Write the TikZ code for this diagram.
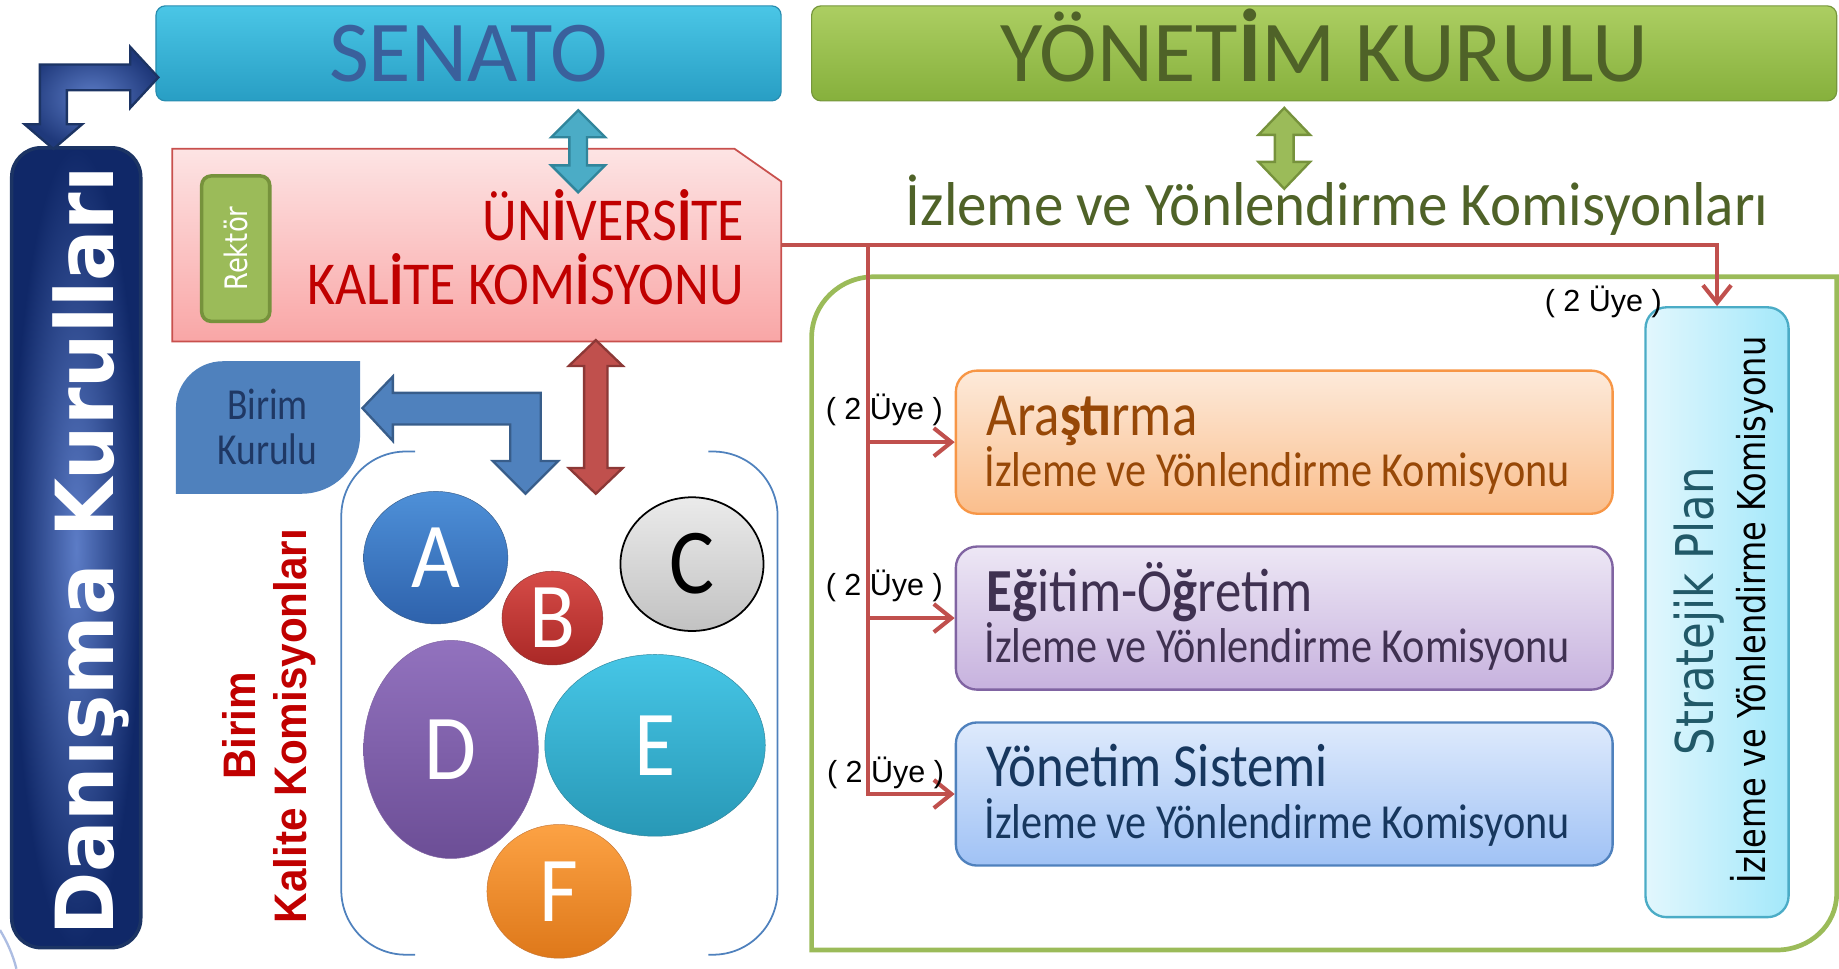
\documentclass[tikz,border=0pt]{standalone}
\usepackage{graphicx}
\usepackage{fontspec}
\setmainfont{Carlito}
\newfontfamily\verdana{DejaVu Sans}
\newfontfamily\arial{Liberation Sans}
\usetikzlibrary{shapes.geometric,arrows.meta}
\newcommand{\tall}[2][1.16]{\scalebox{1}[#1]{#2}}
\definecolor{senTop}{RGB}{74,198,230}
\definecolor{senBot}{RGB}{40,158,196}
\definecolor{senLine}{RGB}{40,140,175}
\definecolor{senText}{RGB}{58,96,156}
\definecolor{ykTop}{RGB}{172,206,98}
\definecolor{ykBot}{RGB}{134,176,60}
\definecolor{ykLine}{RGB}{118,150,60}
\definecolor{ykText}{RGB}{79,98,40}
\definecolor{navyOut}{RGB}{16,40,104}
\definecolor{navyIn}{RGB}{92,124,198}
\definecolor{navyLine}{RGB}{28,52,100}
\definecolor{ukkTop}{RGB}{253,228,228}
\definecolor{ukkBot}{RGB}{249,166,166}
\definecolor{ukkLine}{RGB}{200,80,77}
\definecolor{ukkText}{RGB}{192,0,0}
\definecolor{rekFill}{RGB}{155,187,89}
\definecolor{rekLine}{RGB}{118,146,60}
\definecolor{birFill}{RGB}{79,129,189}
\definecolor{birLine}{RGB}{56,93,138}
\definecolor{birText}{RGB}{31,56,100}
\definecolor{redFill}{RGB}{192,80,77}
\definecolor{redLine}{RGB}{140,56,54}
\definecolor{cyFill}{RGB}{75,172,198}
\definecolor{cyLine}{RGB}{49,133,155}
\definecolor{linkRed}{RGB}{192,80,77}
\definecolor{arsTop}{RGB}{253,234,218}
\definecolor{arsBot}{RGB}{250,190,140}
\definecolor{arsLine}{RGB}{247,150,70}
\definecolor{arsText}{RGB}{151,72,7}
\definecolor{egiTop}{RGB}{237,231,245}
\definecolor{egiBot}{RGB}{199,178,222}
\definecolor{egiLine}{RGB}{128,100,162}
\definecolor{egiText}{RGB}{63,49,81}
\definecolor{yonTop}{RGB}{222,234,252}
\definecolor{yonBot}{RGB}{160,194,245}
\definecolor{yonLine}{RGB}{79,129,189}
\definecolor{yonText}{RGB}{23,55,94}
\definecolor{strL}{RGB}{226,247,253}
\definecolor{strR}{RGB}{163,232,250}
\definecolor{strLine}{RGB}{75,172,198}
\definecolor{strText}{RGB}{33,89,104}
\begin{document}
\begin{tikzpicture}[x=1pt, y=-1pt,
  bar/.style={rounded corners=8pt, line width=1pt, inner sep=0pt, minimum height=81pt,
    font=\fontsize{74}{78}\selectfont, text height=47.6pt, text depth=0pt},
  box/.style={rounded corners=18pt, line width=2pt, inner sep=0pt, minimum width=560pt, minimum height=122pt},
  title/.style={anchor=base west, font=\fontsize{45}{48}\selectfont},
  sub/.style={anchor=base west, font=\fontsize{36}{40}\selectfont},
  circ/.style={ellipse, inner sep=0pt, text=white, font=\fontsize{72}{76}\selectfont},
  uye/.style={anchor=base, font=\arial\fontsize{26}{28}\selectfont},
  bkk/.style={rotate=90, anchor=base, text=ukkText, font=\arial\bfseries\fontsize{36}{40}\selectfont},
  link/.style={draw=linkRed, line width=3.5pt, -{Straight Barb[length=15pt,width=24pt]}},
  bracket/.style={draw=birFill, line width=1.5pt, rounded corners=55pt}]
\useasboundingbox (0,0) rectangle (1568,826);
\draw[color=navyIn!50, line width=2pt] (0,793) .. controls (6,803) and (11,814) .. (14,826);
\draw[draw=rekFill, line width=4pt] (692,810) -- (692,288) .. controls (692,259) and (716,236) .. (745,236)
  -- (1566,236) -- (1566,762) .. controls (1566,789) and (1543,810) .. (1515,810) -- cycle;
\node[bar, top color=senTop, bottom color=senBot, draw=senLine, minimum width=533pt, text=senText] (senato) at (399.5,45.5) {SENATO};
\node[bar, top color=ykTop, bottom color=ykBot, draw=ykLine, minimum width=874pt, text=ykText] (yk) at (1129,45.5) {YÖNET\textbf{İ}M KURULU};
\node[rounded corners=25pt, inner sep=0pt, minimum width=110pt, minimum height=682pt, inner color=navyIn, outer color=navyOut, draw=navyLine, line width=3pt] (danisma) at (65,467) {};
\node[rotate=90, anchor=base, text=white, font=\verdana\bfseries\fontsize{65}{70}\selectfont] (danismaT) at (97,470) {\tall[1.05]{Danışma Kurulları}};
\path[inner color=navyIn, outer color=navyOut!80!navyIn, draw=navyLine, line width=2pt] (135,66) -- (111,40) -- (111,55) -- (34,55) -- (34,106) -- (21,106)
  -- (45.5,127) -- (70,106) -- (57,106) -- (57,77) -- (111,77) -- (111,92) -- cycle;
\node[inner sep=0pt, minimum width=519pt, minimum height=164pt] (ukk) at (406.5,209) {};
\path[top color=ukkTop, bottom color=ukkBot, draw=ukkLine, line width=1.5pt] (ukk.south west) -- (ukk.north west) -- ([xshift=-40pt]ukk.north east)
  -- ([yshift=-28pt]ukk.north east) -- (ukk.south east) -- cycle;
\node[anchor=base east, text=ukkText, font=\fontsize{46}{50}\selectfont] (ukkA) at (638,205) {\tall[1.13]{ÜN\textbf{İ}VERS\textbf{İ}TE}};
\node[anchor=base east, text=ukkText, font=\fontsize{46}{50}\selectfont] (ukkB) at (638,260) {\tall[1.13]{KAL\textbf{İ}TE KOM\textbf{İ}SYONU}};
\node[rotate=90, rounded corners=8pt, fill=rekFill, draw=rekLine, line width=3pt, minimum width=124pt, minimum height=58pt, text=white,
  font=\verdana\fontsize{22}{24}\selectfont] (rektor) at (201,212) {\tall[1.2]{Rektör}};
\path[fill=cyFill, draw=cyLine, line width=2pt] (493,94) -- (516,117) -- (500.5,117) -- (500.5,141) -- (516,141) -- (493,164)
  -- (470,141) -- (485.5,141) -- (485.5,117) -- (470,117) -- cycle;
\path[fill=rekFill, draw=rekLine, line width=2pt] (1095,92) -- (1117,115) -- (1103,115) -- (1103,138) -- (1117,138) -- (1095,161)
  -- (1073,138) -- (1087,138) -- (1087,115) -- (1073,115) -- cycle;
\path[fill=redFill, draw=redLine, line width=2pt] (508,290) -- (531,312) -- (518,312) -- (518,399) -- (531,399) -- (508,421)
  -- (485,399) -- (498,399) -- (498,312) -- (485,312) -- cycle;
\fill[birFill] (150,421) -- (150,348) .. controls (150,326) and (168,308) .. (190,308) -- (307,308) -- (307,371)
  .. controls (307,399) and (285,421) .. (257,421) -- cycle;
\node[align=center, text=birText, font=\fontsize{32}{38}\selectfont] (birim) at (228,364) {\tall[1.18]{Birim}\\\tall[1.18]{Kurulu}};
\path[fill=birFill, draw=birLine, line width=2pt] (309,348) -- (335,321) -- (335,335) -- (461,335) -- (461,393) -- (476,393)
  -- (448,421) -- (420,393) -- (435,393) -- (435,362) -- (335,362) -- (335,376) -- cycle;
\draw[bracket] (354,385) -- (291,385) -- (291,814) -- (354,814);
\draw[bracket] (604,385) -- (663,385) -- (663,814) -- (604,814);
\node[bkk] (bkkA) at (218,619) {\tall[1.08]{Birim}};
\node[bkk] (bkkB) at (261,619) {\tall[1.08]{Kalite Komisyonları}};
\node[circ, top color={rgb,255:red,78;green,144;blue,216}, bottom color={rgb,255:red,46;green,98;blue,172}, draw=birLine, minimum width=123pt, minimum height=113pt] (kA) at (371.5,475.5) {\tall[1.1]{A}};
\node[circ, top color={rgb,255:red,214;green,76;blue,72}, bottom color={rgb,255:red,170;green,40;blue,38}, draw=redLine, minimum width=86pt, minimum height=80pt] (kB) at (471,527) {\tall[1.1]{B}};
\node[circ, top color=white!92!black, bottom color=white!76!black, draw=black, line width=1.5pt, text=black, minimum width=122pt, minimum height=114pt] (kC) at (590,481) {\tall[1.1]{C}};
\node[circ, top color={rgb,255:red,146;green,114;blue,190}, bottom color={rgb,255:red,108;green,78;blue,150}, draw=egiLine, minimum width=149pt, minimum height=186pt] (kD) at (384.5,639) {\tall[1.1]{D}};
\node[circ, top color={rgb,255:red,70;green,198;blue,230}, bottom color={rgb,255:red,40;green,152;blue,182}, draw=cyLine, minimum width=188pt, minimum height=155pt] (kE) at (558.5,635.5) {\tall[1.1]{E}};
\node[circ, top color={rgb,255:red,252;green,162;blue,68}, bottom color={rgb,255:red,222;green,120;blue,26}, draw=arsLine!80!black, minimum width=123pt, minimum height=114pt] (kF) at (476.7,760) {\tall[1.1]{F}};
\node[anchor=base, text=ykText, font=\fontsize{50.3}{53}\selectfont] (izleme) at (1140,192) {\tall[1.05]{İzleme ve Yönlendirme Komisyonları}};
\node[box, top color=arsTop, bottom color=arsBot, draw=arsLine] (ars) at (1095,377) {};
\node[box, top color=egiTop, bottom color=egiBot, draw=egiLine] (egi) at (1095,527) {};
\node[box, top color=yonTop, bottom color=yonBot, draw=yonLine] (yon) at (1095,677) {};
\node[title, text=arsText] (arsT) at (838,371) {\tall{Ara\textbf{ştı}rma}};
\node[sub, text=arsText] (arsS) at (836,415) {\tall{İzleme ve Yönlendirme Komisyonu}};
\node[title, text=egiText] (egiT) at (838,521) {\tall{\textbf{Eğ}itim-Ö\textbf{ğ}retim}};
\node[sub, text=egiText] (egiS) at (836,565) {\tall{İzleme ve Yönlendirme Komisyonu}};
\node[title, text=yonText] (yonT) at (838,671) {\tall{Yönetim Sistemi}};
\node[sub, text=yonText] (yonS) at (836,715) {\tall{İzleme ve Yönlendirme Komisyonu}};
\node[rounded corners=18pt, inner sep=0pt, left color=strL, right color=strR, draw=strLine, line width=2pt, minimum width=122pt, minimum height=520pt] (strat) at (1464,522) {};
\node[rotate=90, anchor=base, text=strText, font=\verdana\fontsize{37}{40}\selectfont] (stratA) at (1461,521) {\tall[1.2]{Stratejik Plan}};
\node[rotate=90, anchor=base, font=\verdana\fontsize{27.3}{30}\selectfont] (stratB) at (1505,520) {\tall[1.2]{İzleme ve Yönlendirme Komisyonu}};
\coordinate (split) at (740,209);
\draw[link] (ukk.east) -| (strat.north);
\draw[link] (split) |- (ars.west);
\draw[link] (split) |- (egi.west);
\draw[link] (split) |- (yon.west);
\node[uye] (uyeA) at (754,358) {( 2 Üye )};
\node[uye] (uyeB) at (754,508) {( 2 Üye )};
\node[uye] (uyeC) at (755,667) {( 2 Üye )};
\node[uye] (uyeD) at (1367,266) {( 2 Üye )};
\end{tikzpicture}
\end{document}
